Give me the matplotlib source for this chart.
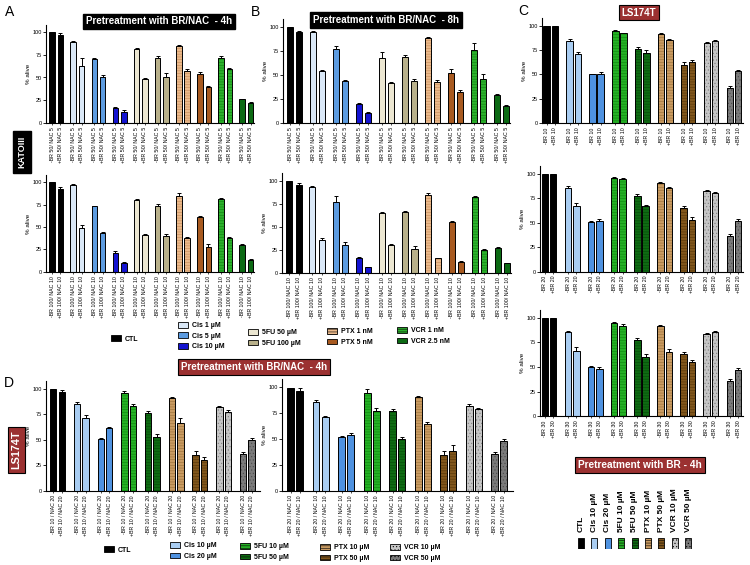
import matplotlib.pyplot as plt
from matplotlib.patches import Patch

plt.rcParams['font.family'] = ['Liberation Sans', 'DejaVu Sans']
plt.rcParams['hatch.linewidth'] = 0.4

W, H = 750, 565

# ---------------- data ----------------
# KATOIII panels (A: 4h, B: 8h), pairs are (-BR, +BR)
groups_ab = ['CTL', 'Cis 1 \u00b5M', 'Cis 5 \u00b5M', 'Cis 10 \u00b5M', '5FU 50 \u00b5M',
             '5FU 100 \u00b5M', 'PTX 1 nM', 'PTX 5 nM', 'VCR 1 nM', 'VCR 2.5 nM']

a1_minus = [100, 89, 71, 16, 81, 72, 85, 54, 72, 26]
a1_plus = [97, 63, 51, 12, 48, 51, 57, 40, 59, 22]
a1_err_m = [0, 1, 1, 1, 2, 2, 1, 2, 2, 0.5]
a1_err_p = [2, 9, 1.5, 1.5, 1, 4, 2, 1, 2, 0.5]

b1_minus = [100, 95, 77, 20, 68, 69, 88, 52, 76, 29]
b1_plus = [94, 54, 44, 10, 42, 44, 43, 32, 46, 18]
b1_err_m = [0, 1, 3, 1, 6, 2, 1, 4, 7, 1.5]
b1_err_p = [2, 1, 1, 1, 1, 1.5, 2, 2.5, 5, 1]

a2_minus = [100, 97, 73, 21, 80, 74, 85, 61, 81, 30]
a2_plus = [93, 49, 43, 10, 41, 40, 38, 28, 38, 13]
a2_err_m = [0, 1, 1, 2, 1, 2, 3, 1.5, 1, 0.5]
a2_err_p = [2, 3, 1, 1, 1.5, 2, 0.5, 3, 1, 1]

b2_minus = [100, 93, 77, 16, 65, 66, 84, 55, 82, 27]
b2_plus = [95, 35, 30, 6, 30, 26, 16, 12, 25, 10]
b2_err_m = [0, 1, 6, 1, 1, 1, 2.5, 1, 1, 1]
b2_err_p = [2, 3, 3, 0.5, 1, 2.5, 0.5, 0.5, 1, 1]

# LS174T panels (C: BR alone, D: BR/NAC)
groups_cd = ['CTL', 'Cis 10 \u00b5M', 'Cis 20 \u00b5M', '5FU 10 \u00b5M', '5FU 50 \u00b5M',
             'PTX 10 \u00b5M', 'PTX 50 \u00b5M', 'VCR 10 \u00b5M', 'VCR 50 \u00b5M']

c1_minus = [100, 84, 50, 95, 76, 91, 60, 82, 36]
c1_plus = [100, 71, 50, 92, 72, 85, 63, 84, 53]
c1_err_m = [0, 2, 0.5, 1, 2, 1, 3, 1.5, 2]
c1_err_p = [0, 2, 2.5, 1, 3.5, 1, 2, 1.5, 1]

c2_minus = [100, 85, 51, 96, 77, 91, 65, 82, 36]
c2_plus = [100, 67, 52, 95, 67, 85, 53, 80, 52]
c2_err_m = [0, 2, 1, 1, 2, 1, 2, 1, 2]
c2_err_p = [0, 3, 2, 1, 1, 1, 3, 1, 1.5]

c3_minus = [100, 85, 50, 95, 77, 92, 63, 83, 36]
c3_plus = [100, 66, 48, 92, 60, 65, 55, 86, 47]
c3_err_m = [0, 2, 1, 1, 2, 1, 2, 1, 2]
c3_err_p = [0, 4, 2, 2, 3, 3, 2, 1, 2]

d1_minus = [100, 85, 51, 96, 76, 91, 35, 82, 36]
d1_plus = [97, 71, 62, 83, 53, 67, 30, 77, 50]
d1_err_m = [0, 2, 1, 2, 2, 1, 4, 1.5, 2]
d1_err_p = [2, 3, 1, 2, 3, 4, 3, 2, 2]

d2_minus = [99, 86, 52, 95, 77, 91, 35, 82, 36]
d2_plus = [97, 71, 54, 77, 50, 65, 39, 79, 48]
d2_err_m = [0, 2, 1, 3, 2, 1, 4, 1.5, 2]
d2_err_p = [2, 1, 2, 3, 2, 2, 5, 1.5, 2]

# bar styles: (face colour, hatch colour, hatch)
style_ab = {
    'CTL': ('#000000', None, None),
    'Cis 1 \u00b5M': ('#dae8f7', None, None),
    'Cis 5 \u00b5M': ('#5c9be0', None, None),
    'Cis 10 \u00b5M': ('#1414d2', None, None),
    '5FU 50 \u00b5M': ('#ece7d2', None, None),
    '5FU 100 \u00b5M': ('#b9b18b', None, None),
    'PTX 1 nM': ('#eab98b', '#c48a58', '------'),
    'PTX 5 nM': ('#a85a20', None, None),
    'VCR 1 nM': ('#2cb02c', '#0e800e', '------'),
    'VCR 2.5 nM': ('#0c6a14', None, None),
}
style_cd = {
    'CTL': ('#000000', None, None),
    'Cis 10 \u00b5M': ('#a9cdf2', None, None),
    'Cis 20 \u00b5M': ('#4f92e0', None, None),
    '5FU 10 \u00b5M': ('#25b025', '#0d850d', '------'),
    '5FU 50 \u00b5M': ('#0f6b13', '#054a08', '------'),
    'PTX 10 \u00b5M': ('#c99b62', '#9a7038', '------'),
    'PTX 50 \u00b5M': ('#80561c', '#553508', '------'),
    'VCR 10 \u00b5M': ('#c6c6c6', '#7e7e7e', '.....'),
    'VCR 50 \u00b5M': ('#7a7a7a', '#4a4a4a', '.....'),
}

fig = plt.figure(figsize=(7.5, 5.65), dpi=100)


def px_axes(x0, x1, y0, y100, ymax=108):
    top = y0 - ymax / 100 * (y0 - y100)
    return fig.add_axes([x0 / W, 1 - y0 / H, (x1 - x0) / W, (y0 - top) / H])


def draw_panel(ax, groups, styles, minus, plus, err_m, err_p, labels, gap, width, xlim):
    ticks = []
    for i, g in enumerate(groups):
        xs = [i * gap, i * gap + 1]
        hs = [minus[i], plus[i]]
        fc, hc, hatch = styles[g]
        if hatch:
            ax.bar(xs, hs, width, color=fc, edgecolor=hc, hatch=hatch, linewidth=0)
            ax.bar(xs, hs, width, fill=False, edgecolor='black', linewidth=0.7)
        else:
            ax.bar(xs, hs, width, color=fc, edgecolor='black', linewidth=0.7)
        ax.errorbar(xs, hs, yerr=[[0, 0], [err_m[i], err_p[i]]], fmt='none',
                    ecolor='black', elinewidth=0.7, capsize=1.4, capthick=0.7)
        ticks += xs
    ax.set_xticks(ticks)
    ax.set_xticklabels(labels * len(groups), rotation=90, fontsize=3.8)
    ax.set_xlim(*xlim)
    ax.set_ylim(0, 108)
    ax.set_yticks([0, 25, 50, 75, 100])
    ax.set_ylabel('% alive', fontsize=4.5, labelpad=1)
    for s in ['top', 'right']:
        ax.spines[s].set_visible(False)
    for s in ['left', 'bottom']:
        ax.spines[s].set_linewidth(0.8)
    ax.tick_params(axis='y', labelsize=4, length=2, width=0.6, pad=1)
    ax.tick_params(axis='x', length=1.5, width=0.5, pad=1.5)


lab50 = ['-BR 50/ NAC 5', '+BR 50/ NAC 5']
lab100 = ['-BR 100/ NAC 10', '+BR 100/ NAC 10']
xl_ab = (-0.75, 23.9)

ax = px_axes(45.7, 254, 122.7, 32.3)
draw_panel(ax, groups_ab, style_ab, a1_minus, a1_plus, a1_err_m, a1_err_p, lab50, 2.5, 0.65, xl_ab)
ax = px_axes(283.3, 510, 123, 26.7)
draw_panel(ax, groups_ab, style_ab, b1_minus, b1_plus, b1_err_m, b1_err_p, lab50, 2.5, 0.65, xl_ab)
ax = px_axes(45.7, 254, 271.7, 182.3)
draw_panel(ax, groups_ab, style_ab, a2_minus, a2_plus, a2_err_m, a2_err_p, lab100, 2.5, 0.65, xl_ab)
ax = px_axes(282.3, 511, 272.7, 180.7)
draw_panel(ax, groups_ab, style_ab, b2_minus, b2_plus, b2_err_m, b2_err_p, lab100, 2.5, 0.65, xl_ab)

xl_c = (-0.6, 24.0)
ax = px_axes(541.7, 743, 123, 25.7)
draw_panel(ax, groups_cd, style_cd, c1_minus, c1_plus, c1_err_m, c1_err_p, ['-BR 10', '+BR 10'], 2.8, 0.78, xl_c)
ax = px_axes(540, 743, 271.7, 173.7)
draw_panel(ax, groups_cd, style_cd, c2_minus, c2_plus, c2_err_m, c2_err_p, ['-BR 20', '+BR 20'], 2.8, 0.78, xl_c)
ax = px_axes(540, 743, 416.3, 317.7)
draw_panel(ax, groups_cd, style_cd, c3_minus, c3_plus, c3_err_m, c3_err_p, ['-BR 30', '+BR 30'], 2.8, 0.78, xl_c)

xl_d = (-0.9, 24.4)
ax = px_axes(45.7, 260, 491, 388.8)
draw_panel(ax, groups_cd, style_cd, d1_minus, d1_plus, d1_err_m, d1_err_p,
           ['-BR 10 / NAC 20', '+BR 10 / NAC 20'], 2.8, 0.75, xl_d)
ax = px_axes(282.3, 513, 491, 387.4)
draw_panel(ax, groups_cd, style_cd, d2_minus, d2_plus, d2_err_m, d2_err_p,
           ['-BR 20 / NAC 10', '+BR 20 / NAC 10'], 2.8, 0.75, xl_d)


# ---------------- labels and boxes ----------------
def ftext(x, y, s, **kw):
    fig.text(x / W, 1 - y / H, s, **kw)


for letter, x, y in [('A', 10, 12), ('B', 255, 12), ('C', 523, 11), ('D', 9, 383)]:
    ftext(x, y, letter, fontsize=10, ha='center', va='center')

red = '#9b3131'
box_kw = dict(ha='center', va='center', color='white', fontweight='bold')
ftext(159, 21.5, 'Pretreatment with BR/NAC  - 4h', fontsize=7,
      bbox=dict(boxstyle='square,pad=0.3', fc='black', ec='black'), **box_kw)
ftext(386, 20, 'Pretreatment with BR/NAC  - 8h', fontsize=7,
      bbox=dict(boxstyle='square,pad=0.3', fc='black', ec='black'), **box_kw)
ftext(639, 12.5, 'LS174T', fontsize=7,
      bbox=dict(boxstyle='square,pad=0.3', fc=red, ec='black', lw=0.8), **box_kw)
ftext(254, 367, 'Pretreatment with BR/NAC  - 4h', fontsize=7,
      bbox=dict(boxstyle='square,pad=0.3', fc=red, ec='black', lw=0.8), **box_kw)
ftext(640, 465, 'Pretreatment with BR - 4h', fontsize=7.3,
      bbox=dict(boxstyle='square,pad=0.3', fc=red, ec='black', lw=0.8), **box_kw)
ftext(22, 152, 'KATOIII', fontsize=6.5, rotation=90,
      bbox=dict(boxstyle='square,pad=0.55', fc='black', ec='black'), **box_kw)
ftext(16.5, 450, 'LS174T', fontsize=7.8, rotation=90,
      bbox=dict(boxstyle='square,pad=0.3', fc=red, ec='black', lw=0.8), **box_kw)


# ---------------- legends ----------------
def handle(fc, hc, hatch):
    return Patch(facecolor=fc, edgecolor='black', hatch=hatch, linewidth=0.6)


def leg(names, styles, x, y):
    hs = [handle(*styles[n]) for n in names]
    fig.legend(hs, names, loc='center left', bbox_to_anchor=(x / W, 1 - y / H),
               frameon=False, borderpad=0, borderaxespad=0, handlelength=1.4,
               handleheight=0.9, handletextpad=0.6, labelspacing=0.45,
               prop=dict(weight='bold', size=5))


leg(['CTL'], style_ab, 111, 339)
leg(groups_ab[1:4], style_ab, 178, 336)
leg(groups_ab[4:6], style_ab, 248, 338)
leg(groups_ab[6:8], style_ab, 327, 337)
leg(groups_ab[8:10], style_ab, 397, 336)

leg(['CTL'], style_cd, 104, 550)
leg(groups_cd[1:3], style_cd, 170, 551)
leg(groups_cd[3:5], style_cd, 240, 552)
leg(groups_cd[5:7], style_cd, 320, 553)
leg(groups_cd[7:9], style_cd, 390, 553)

# vertical key for panel C
lx = fig.add_axes([574.3 / W, 1 - 548.5 / H, 120.6 / W, 11 / H])
for i, g in enumerate(groups_cd):
    fc, hc, hatch = style_cd[g]
    lx.bar(i, 1, 0.45, color=fc, edgecolor='black', hatch=hatch, linewidth=0.6)
lx.set_xlim(-0.5, len(groups_cd) - 0.5)
lx.set_ylim(0, 1)
lx.set_xticks(range(len(groups_cd)))
lx.set_xticklabels(groups_cd, rotation=90, fontsize=6, fontweight='bold')
lx.xaxis.tick_top()
lx.tick_params(axis='x', length=0, pad=4)
lx.set_yticks([])
for s in lx.spines.values():
    s.set_visible(False)

fig.savefig('out.png', dpi=100)
